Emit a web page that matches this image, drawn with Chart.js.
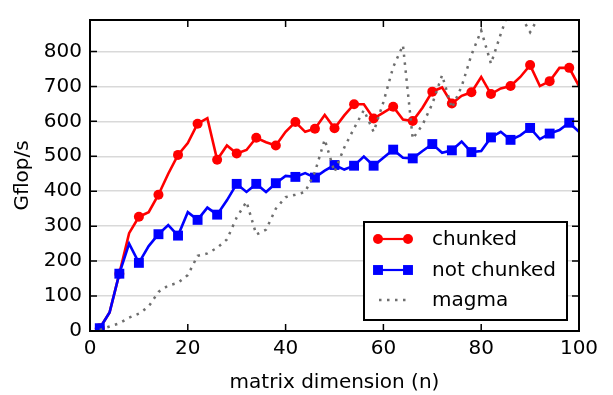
<!DOCTYPE html>
<html>
<head>
<meta charset="utf-8">
<script src="https://cdn.jsdelivr.net/npm/chart.js@4/dist/chart.umd.min.js"></script>
<style>
  html, body { margin: 0; padding: 0; background: #fff; }
  #wrap { width: 613px; height: 395px; position: relative; }
</style>
</head>
<body>
<div id="wrap"><canvas id="c" width="613" height="395"></canvas></div>
<script>
// ---- data ----
const dims = [2,4,6,8,10,12,14,16,18,20,22,24,26,28,30,32,34,36,38,40,42,44,46,48,50,
              52,54,56,58,60,62,64,66,68,70,72,74,76,78,80,82,84,86,88,90,92,94,96,98,100];
const chunked = [8,53,164,280,327,340,390,450,504,538,593,609,490,531,508,518,553,540,531,570,598,570,579,618,580,
                 617,649,649,608,625,642,605,601,639,685,697,651,673,683,727,678,694,701,727,761,701,715,753,753,701];
const notChunked = [8,53,164,250,195,243,277,303,273,340,318,353,333,374,421,398,421,398,423,444,441,452,439,459,475,
                    462,473,499,473,496,519,496,494,515,535,510,517,542,512,515,554,570,547,560,581,549,565,575,596,570];
const magma = [3,13,22,38,50,70,112,130,138,160,215,222,238,262,325,370,276,290,350,383,390,398,455,548,455,
               525,580,632,570,655,755,818,550,590,650,732,638,700,790,860,765,850,930,905,855,905,960,1000,960,990];
const seriesNames = ['chunked', 'not chunked', 'magma'];
const xTicks = [0,20,40,60,80,100];
const yTicks = [0,100,200,300,400,500,600,700,800];
const xTitle = 'matrix dimension (n)';
const yTitle = 'Gflop/s';

const FONT = 'DejaVu Sans';
const pts = arr => dims.map((d, i) => ({x: d, y: arr[i]}));
const markEvery = r => (c => (c.dataIndex % 2 === 0 ? r : 0));

const datasets = [
  { label: seriesNames[0], data: pts(chunked), borderColor: '#ff0000', backgroundColor: '#ff0000',
    borderWidth: 2.6, pointStyle: 'circle', pointRadius: markEvery(5), pointBorderWidth: 0,
    pointHoverRadius: 0, tension: 0, order: 2 },
  { label: seriesNames[1], data: pts(notChunked), borderColor: '#0000ff', backgroundColor: '#0000ff',
    borderWidth: 2.6, pointStyle: 'rect', pointRadius: markEvery(7), pointBorderWidth: 0,
    pointHoverRadius: 0, tension: 0, order: 1 },
  { label: seriesNames[2], data: pts(magma), borderColor: '#6e6e6e', backgroundColor: '#6e6e6e',
    borderWidth: 2.5, borderDash: [2.5, 5.5], pointRadius: 0, pointHoverRadius: 0, tension: 0, order: 0 }
];

const framePlugin = {
  id: 'frame',
  afterDraw(chart) {
    const {ctx, chartArea: a, scales} = chart;
    const xs = scales.x, ys = scales.y;
    ctx.save();
    ctx.strokeStyle = '#000';
    ctx.lineWidth = 1.5;
    const tl = 7;
    ctx.beginPath();
    xTicks.forEach(v => {
      const px = xs.getPixelForValue(v);
      ctx.moveTo(px, a.bottom); ctx.lineTo(px, a.bottom - tl);
      ctx.moveTo(px, a.top); ctx.lineTo(px, a.top + tl);
    });
    yTicks.forEach(v => {
      const py = ys.getPixelForValue(v);
      ctx.moveTo(a.left, py); ctx.lineTo(a.left + tl, py);
      ctx.moveTo(a.right, py); ctx.lineTo(a.right - tl, py);
    });
    ctx.stroke();
    ctx.lineWidth = 2;
    ctx.strokeRect(a.left, a.top, a.right - a.left, a.bottom - a.top);

    // legend
    const bw = 203, bh = 98;
    const bx = a.right - 12 - bw, by = a.bottom - 11 - bh;
    ctx.fillStyle = '#fff';
    ctx.fillRect(bx, by, bw, bh);
    ctx.strokeStyle = '#000';
    ctx.lineWidth = 2;
    ctx.strokeRect(bx, by, bw, bh);
    const rows = [by + 17, by + 48, by + 78];
    const x0 = bx + 14, x1 = bx + 44;
    chart.data.datasets.forEach((ds, i) => {
      const y = rows[i];
      ctx.save();
      ctx.strokeStyle = ds.borderColor;
      ctx.lineWidth = i < 2 ? 2.2 : ds.borderWidth;
      if (ds.borderDash) ctx.setLineDash(ds.borderDash);
      ctx.beginPath(); ctx.moveTo(i < 2 ? x0 : x0 + 1, y); ctx.lineTo(x1, y); ctx.stroke();
      ctx.restore();
      if (i < 2) {
        const r = i === 0 ? 5 : 7;
        const st = {pointStyle: ds.pointStyle, radius: r, borderWidth: 0, rotation: 0};
        ctx.fillStyle = ds.backgroundColor; ctx.strokeStyle = ds.borderColor;
        Chart.helpers.drawPoint(ctx, st, x0, y);
        Chart.helpers.drawPoint(ctx, st, x1, y);
      }
      ctx.fillStyle = '#000';
      ctx.font = '20px "' + FONT + '"';
      ctx.textBaseline = 'middle';
      ctx.textAlign = 'left';
      ctx.fillText(ds.label, bx + 68, y + 1);
    });
    ctx.restore();
  }
};

new Chart(document.getElementById('c'), {
  type: 'line',
  data: { datasets },
  options: {
    responsive: false,
    animation: false,
    events: [],
    layout: { padding: { left: 0, right: 34, top: 9, bottom: 0 } },
    plugins: { legend: { display: false }, tooltip: { enabled: false } },
    scales: {
      x: {
        type: 'linear', min: 0, max: 100,
        afterBuildTicks: s => { s.ticks = xTicks.map(v => ({value: v})); },
        afterFit: s => { s.height = 64; },
        grid: { display: false, drawTicks: false },
        border: { display: false },
        ticks: { color: '#000', font: { family: FONT, size: 20 }, padding: 6, maxRotation: 0 },
        title: { display: true, text: xTitle, color: '#000', font: { family: FONT, size: 20 },
                 padding: { top: 0, bottom: 0 } }
      },
      y: {
        type: 'linear', min: 0, max: 890,
        afterBuildTicks: s => { s.ticks = yTicks.map(v => ({value: v})); },
        afterFit: s => { s.width = 90; },
        grid: { color: c => (c.tick && c.tick.value === 0 ? 'rgba(0,0,0,0)' : '#d9d9d9'),
                lineWidth: 1.5, drawTicks: false },
        border: { display: false },
        ticks: { color: '#000', font: { family: FONT, size: 20 }, padding: 8 },
        title: { display: true, text: yTitle, color: '#000', font: { family: FONT, size: 20 },
                 padding: { top: 11, bottom: 0 } }
      }
    }
  },
  plugins: [framePlugin]
});
</script>
</body>
</html>
